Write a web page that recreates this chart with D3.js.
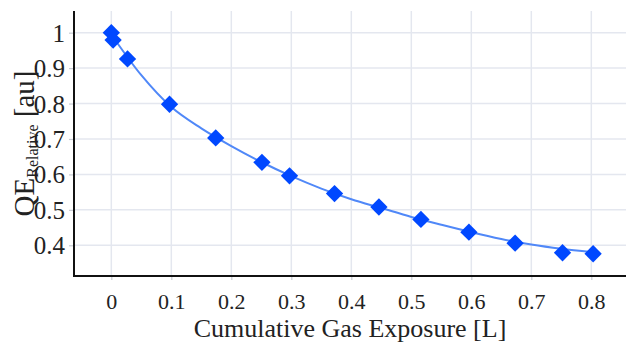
<!DOCTYPE html>
<html><head><meta charset="utf-8">
<script src="https://cdn.jsdelivr.net/npm/d3@7"></script>
<style>body{margin:0;background:#fff}svg{display:block}</style>
</head><body>
<script>
// Measured points
const pointX = [0, 0.003, 0.027, 0.097, 0.174, 0.251, 0.297, 0.372, 0.446, 0.516, 0.596, 0.673, 0.752, 0.803];
const pointY = [1.0, 0.979, 0.926, 0.798, 0.703, 0.634, 0.596, 0.546, 0.508, 0.473, 0.437, 0.406, 0.379, 0.376];
// Fitted curve
const fitX = [0, 0.05, 0.1, 0.15, 0.2, 0.25, 0.3, 0.35, 0.4, 0.45, 0.5, 0.55, 0.6, 0.65, 0.7, 0.75, 0.8];
const fitY = [0.995, 0.88, 0.79, 0.73, 0.68, 0.635, 0.595, 0.56, 0.53, 0.505, 0.48, 0.458, 0.437, 0.418, 0.402, 0.39, 0.381];
const xTicks = [0, 0.1, 0.2, 0.3, 0.4, 0.5, 0.6, 0.7, 0.8];
const yTicks = [0.4, 0.5, 0.6, 0.7, 0.8, 0.9, 1];
const xTitle = "Cumulative Gas Exposure [L]";

const W = 626, H = 343;
const L = 74, T = 11, R = 626, B = 276;
const svg = d3.select("body").append("svg").attr("width", W).attr("height", H);
const font = "'Liberation Serif', 'Times New Roman', serif";

const x = d3.scaleLinear().domain([-0.0622, 0.8578]).range([L, R]);
const y = d3.scaleLinear().domain([0.3133, 1.0612]).range([B, T]);

const grid = "#e4e7ef";
svg.append("g").selectAll("line").data(xTicks).join("line")
  .attr("x1", d => x(d)).attr("x2", d => x(d)).attr("y1", T).attr("y2", B)
  .attr("stroke", grid).attr("stroke-width", 1.5);
svg.append("g").selectAll("line").data(yTicks).join("line")
  .attr("x1", L).attr("x2", R).attr("y1", d => y(d)).attr("y2", d => y(d))
  .attr("stroke", grid).attr("stroke-width", 1.5);

// axes
const xAxis = svg.append("g").attr("transform", `translate(0,${B})`)
  .call(d3.axisBottom(x).tickValues(xTicks).tickSize(4).tickPadding(13).tickFormat(d3.format("~g")));
const yAxis = svg.append("g").attr("transform", `translate(${L},0)`)
  .call(d3.axisLeft(y).tickValues(yTicks).tickSize(5).tickPadding(4).tickFormat(d3.format("~g")));
[xAxis, yAxis].forEach(a => {
  a.attr("font-family", null).attr("font-size", null);
  a.select(".domain").remove();
  a.selectAll(".tick line").attr("stroke", "#c8ccd4").attr("stroke-width", 1.2);
  a.selectAll(".tick text").style("font-family", font).attr("fill", "#222");
});
xAxis.selectAll(".tick text").style("font-size", "22px").attr("dy", "0.71em");
yAxis.selectAll(".tick text").style("font-size", "25px").attr("dy", "0.34em");

svg.append("line").attr("x1", L).attr("x2", L).attr("y1", T).attr("y2", B + 1)
  .attr("stroke", "#111").attr("stroke-width", 2);
svg.append("line").attr("x1", L - 1).attr("x2", R).attr("y1", B).attr("y2", B)
  .attr("stroke", "#111").attr("stroke-width", 2);

// fit line
const fit = fitX.map((v, i) => [v, fitY[i]]);
svg.append("path").datum(fit)
  .attr("d", d3.line().x(d => x(d[0])).y(d => y(d[1])).curve(d3.curveMonotoneX))
  .attr("fill", "none").attr("stroke", "#5088f8").attr("stroke-width", 2);

// markers
const pts = pointX.map((v, i) => [v, pointY[i]]);
svg.append("g").selectAll("path").data(pts).join("path")
  .attr("d", d3.symbol().type(d3.symbolSquare).size(150))
  .attr("transform", d => `translate(${x(d[0])},${y(d[1])}) rotate(45)`)
  .attr("fill", "#0048ff");

// titles
svg.append("text").attr("x", (L + R) / 2).attr("y", 337).attr("text-anchor", "middle")
  .style("font-family", font).style("font-size", "26px").attr("fill", "#222").text(xTitle);

const yt = svg.append("text").attr("transform", `translate(33.5,${(T + B) / 2}) rotate(-90)`)
  .attr("text-anchor", "middle").style("font-family", font).style("font-size", "29px").attr("fill", "#222");
yt.append("tspan").text("QE");
yt.append("tspan").style("font-size", "16px").attr("dy", 4).text("Relative");
yt.append("tspan").attr("dy", -4).text(" [au]");
</script>
</body></html>
